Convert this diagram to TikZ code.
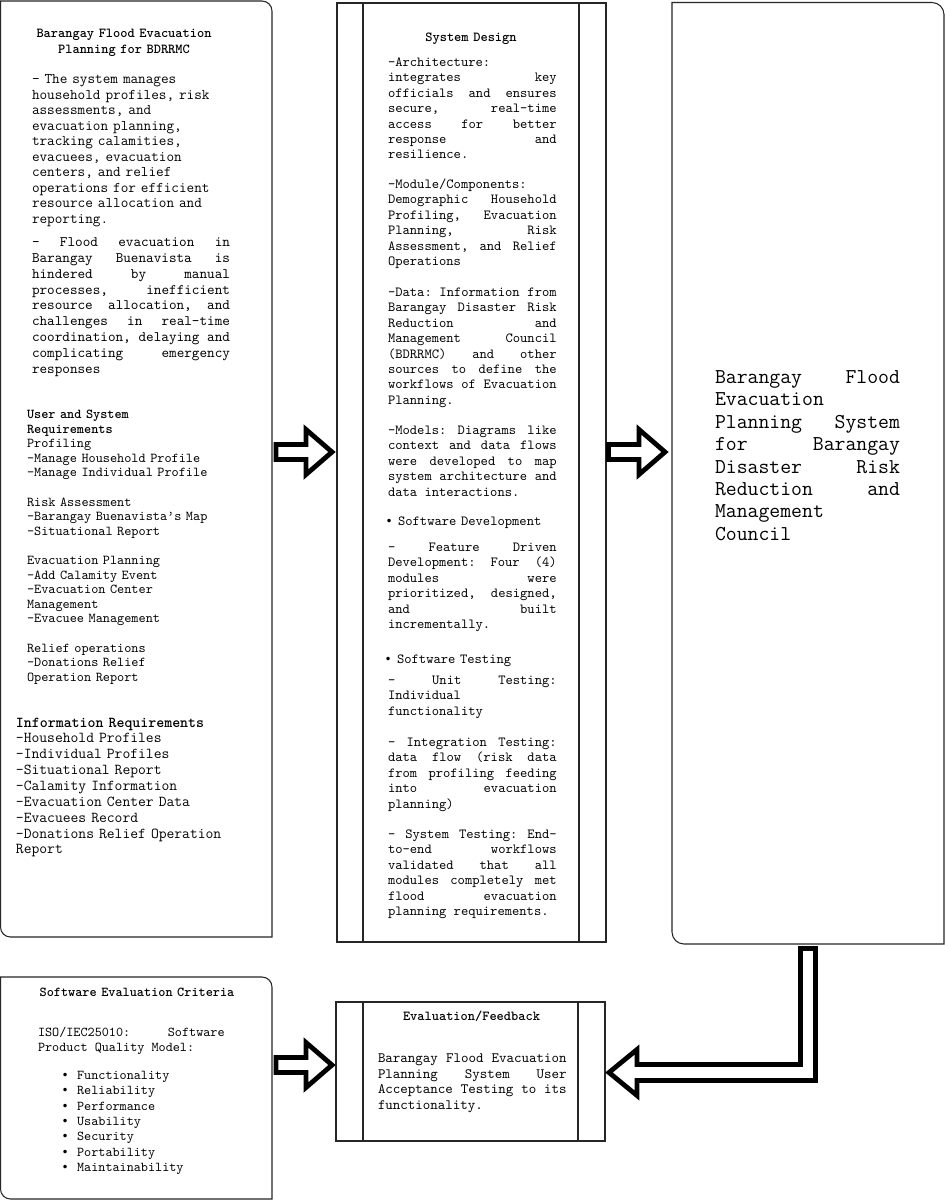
\documentclass[tikz,border=0pt]{standalone}
\usepackage{fontspec}
\newfontfamily\symf{DejaVu Sans}
\usetikzlibrary{calc}
\frenchspacing
\newcommand\fsz[2]{\ttfamily\fontsize{#1}{#2}\selectfont}
\newcommand\bul[1]{{\symf\fontsize{9pt}{9pt}\selectfont •}\hspace{#1}}
\newcommand\cardbox[5]{%
  \draw[boxline] (#1,#2) -- (#3-#5,#2) .. controls (#3-0.448*#5,#2) and (#3,#2+0.448*#5) .. (#3,#2+#5)
    -- (#3,#4) -- (#1+#5,#4) .. controls (#1+0.448*#5,#4) and (#1,#4-0.448*#5) .. (#1,#4-#5) -- cycle;}
\newcommand\procbox[6]{%
  \draw[boxline] (#1,#2) rectangle (#3,#4);
  \draw[boxline] (#5,#2) -- (#5,#4);
  \draw[boxline] (#6,#2) -- (#6,#4);}
\newcommand\rarrow[3]{%
  \draw[barrow] (#1,#3-7.5) -- (#2-26,#3-7.5) -- (#2-26,#3-22.5) -- (#2,#3)
    -- (#2-26,#3+22.5) -- (#2-26,#3+7.5) -- (#1,#3+7.5) -- cycle;}
\begin{document}
\begin{tikzpicture}[x=0.75pt,y=-0.75pt,
  boxline/.style={draw=black!85, line width=0.8pt},
  barrow/.style={draw=black, fill=white, line width=3.6pt, line join=miter, miter limit=10},
  txt/.style={inner sep=0pt, outer sep=0pt, anchor=base west, align=left, text width=#1},
  txt/.default=230pt,
  ttl/.style={inner sep=0pt, outer sep=0pt, anchor=base, align=center, text width=200pt},
  jtxt/.style={inner sep=0pt, outer sep=0pt, anchor=base west, align=justify, text width=#1,
    execute at begin node={\spaceskip=\fontdimen2\font plus 60pt\relax\tolerance=10000\relax
      \pretolerance=-1\relax\hyphenpenalty=10000\relax\exhyphenpenalty=10000\relax}}]
\useasboundingbox (0,0) rectangle (945,1204);
\fill[white] (0,0) rectangle (945,1204);

% ---------- frames ----------
\cardbox{0.5}{1}{272}{937}{10}
\cardbox{0.5}{977}{272}{1199}{10}
\cardbox{672}{2.5}{944}{944}{12}
\procbox{337}{3}{606}{942}{363}{579}
\procbox{336}{1002}{605}{1141}{363}{578}

% ---------- box A ----------
\node[ttl, font=\fsz{10.3pt}{12pt}\bfseries] (atitle) at (124,37.5)
  {Barangay Flood Evacuation\\Planning for BDRRMC};
\node[txt, font=\fsz{11.1pt}{11.66pt}] (apara1) at (32,83.5)
  {- The system manages\\
   household profiles, risk\\
   assessments, and\\
   evacuation planning,\\
   tracking calamities,\\
   evacuees, evacuation\\
   centers, and relief\\
   operations for efficient\\
   resource allocation and\\
   reporting.};
\node[jtxt=148.5pt, font=\fsz{10.86pt}{11.85pt}] (apara2) at (32,246.7)
  {- Flood evacuation in\linebreak
   Barangay Buenavista is\linebreak
   hindered by manual\linebreak
   processes, inefficient\linebreak
   resource allocation, and\linebreak
   challenges in real-time\linebreak
   coordination, delaying and\linebreak
   complicating emergency\linebreak
   responses};
\node[txt, font=\fsz{10.2pt}{10.95pt}] (areq) at (27,418.5)
  {\textbf{User and System}\\
   \textbf{Requirements}\\
   Profiling\\
   -Manage Household Profile\\
   -Manage Individual Profile\\[10.95pt]
   Risk Assessment\\
   -Barangay Buenavista’s Map\\
   -Situational Report\\[10.95pt]
   Evacuation Planning\\
   -Add Calamity Event\\
   -Evacuation Center\\
   Management\\
   -Evacuee Management\\[10.95pt]
   Relief operations\\
   -Donations Relief\\
   Operation Report};
\node[txt, font=\fsz{11.37pt}{11.9pt}] (ainfo) at (16,727)
  {\textbf{Information Requirements}\\
   -Household Profiles\\
   -Individual Profiles\\
   -Situational Report\\
   -Calamity Information\\
   -Evacuation Center Data\\
   -Evacuees Record\\
   -Donations Relief Operation\\
   Report};

% ---------- box B ----------
\node[ttl, font=\fsz{10.33pt}{11.55pt}\bfseries] (btitle) at (471,41.5) {System Design};
\node[jtxt=126.5pt, font=\fsz{10.43pt}{11.55pt}] (barch) at (388,66.5)
  {-Architecture:\linebreak
   integrates key\linebreak
   officials and ensures\linebreak
   secure, real-time\linebreak
   access for better\linebreak
   response and\linebreak
   resilience.};
\node[jtxt=126.5pt, font=\fsz{10.43pt}{11.55pt}] (bmod) at (388,188.5)
  {-Module/Components:\linebreak
   Demographic Household\linebreak
   Profiling, Evacuation\linebreak
   Planning, Risk\linebreak
   Assessment, and Relief\linebreak
   Operations};
\node[jtxt=126.5pt, font=\fsz{10.43pt}{11.55pt}] (bdata) at (388,296.5)
  {-Data: Information from\linebreak
   Barangay Disaster Risk\linebreak
   Reduction and\linebreak
   Management Council\linebreak
   (BDRRMC) and other\linebreak
   sources to define the\linebreak
   workflows of Evacuation\linebreak
   Planning.};
\node[jtxt=126.5pt, font=\fsz{10.43pt}{11.55pt}] (bmodels) at (388,434.5)
  {-Models: Diagrams like\linebreak
   context and data flows\linebreak
   were developed to map\linebreak
   system architecture and\linebreak
   data interactions.};
\node[txt, font=\fsz{10.43pt}{11.55pt}] (bsd) at (385.5,525.5)
  {\bul{4.1pt}Software Development};
\node[jtxt=126.5pt, font=\fsz{10.43pt}{11.55pt}] (bfdd) at (388,551.5)
  {- Feature Driven\linebreak
   Development: Four (4)\linebreak
   modules were\linebreak
   prioritized, designed,\linebreak
   and built\linebreak
   incrementally.};
\node[txt, font=\fsz{10.43pt}{11.55pt}] (bst) at (384.5,663.5)
  {\bul{4.1pt}Software Testing};
\node[jtxt=126.5pt, font=\fsz{10.43pt}{11.55pt}] (bunit) at (388,684.5)
  {- Unit Testing:\linebreak
   Individual\linebreak
   functionality};
\node[jtxt=126.5pt, font=\fsz{10.43pt}{11.55pt}] (binteg) at (388,746.5)
  {- Integration Testing:\linebreak
   data flow (risk data\linebreak
   from profiling feeding\linebreak
   into evacuation\linebreak
   planning)};
\node[jtxt=126.5pt, font=\fsz{10.43pt}{11.55pt}] (bsys) at (388,838.5)
  {- System Testing: End-\linebreak
   to-end workflows\linebreak
   validated that all\linebreak
   modules completely met\linebreak
   flood evacuation\linebreak
   planning requirements.};

% ---------- box C ----------
\node[jtxt=138.75pt, font=\fsz{15.86pt}{16.8pt}] (ctext) at (715,383.5)
  {Barangay Flood\linebreak
   Evacuation\linebreak
   Planning System\linebreak
   for Barangay\linebreak
   Disaster Risk\linebreak
   Reduction and\linebreak
   Management\linebreak
   Council};

% ---------- box D ----------
\node[ttl, font=\fsz{10.2pt}{11.5pt}\bfseries] (dtitle) at (137,996.5) {Software Evaluation Criteria};
\node[jtxt=140pt, font=\fsz{10.14pt}{11.5pt}] (diso) at (38,1036.5)
  {ISO/IEC25010: Software\linebreak
   Product Quality Model:};
\node[txt, font=\fsz{10.14pt}{11.5pt}] (dlist) at (61.5,1079.5)
  {\bul{6.4pt}Functionality\\
   \bul{6.4pt}Reliability\\
   \bul{6.4pt}Performance\\
   \bul{6.4pt}Usability\\
   \bul{6.4pt}Security\\
   \bul{6.4pt}Portability\\
   \bul{6.4pt}Maintainability};

% ---------- box E ----------
\node[ttl, font=\fsz{10.3pt}{11.7pt}\bfseries] (etitle) at (471.5,1020.5) {Evaluation/Feedback};
\node[jtxt=141.5pt, font=\fsz{10.71pt}{11.7pt}] (etext) at (378,1062.5)
  {Barangay Flood Evacuation\linebreak
   Planning System User\linebreak
   Acceptance Testing to its\linebreak
   functionality.};

% ---------- arrows ----------
\rarrow{276}{332}{452}
\rarrow{608.5}{665}{452}
\rarrow{276}{332}{1065}
\draw[barrow] (800.5,948.5) -- (800.5,1064.5) -- (637,1064.5) -- (637,1049.5) -- (609,1072.5)
  -- (637,1095.5) -- (637,1080.5) -- (815.5,1080.5) -- (815.5,948.5) -- cycle;
\end{tikzpicture}
\end{document}
